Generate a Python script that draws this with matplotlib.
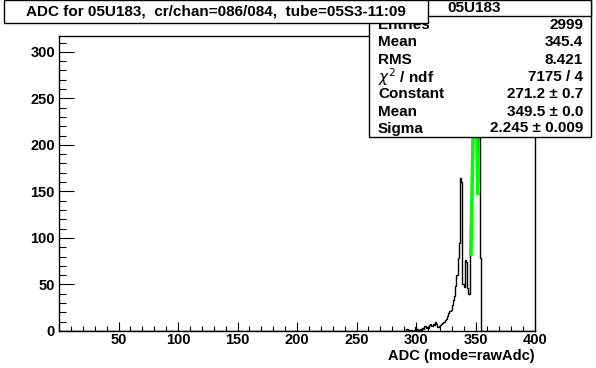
import numpy as np
import matplotlib
matplotlib.use("Agg")
import matplotlib.pyplot as plt
from matplotlib.patches import Rectangle

# ---------------- data ----------------
title = "ADC for 05U183,  cr/chan=086/084,  tube=05S3-11:09"
stats_title = "05U183"
stats_labels = ["Entries", "Mean", "RMS", r"$\chi^2$ / ndf", "Constant", "Mean", "Sigma"]
stats_values = ["2999", "345.4", "8.421", "7175 / 4", "271.2 \u00b1 0.7",
                "349.5 \u00b1 0.0", "2.245 \u00b1 0.009"]
x_label = "ADC (mode=rawAdc)"

n_bins = 400
x_min, x_max = 0, 400
first_bin = 290
counts = [0, 0, 2, 0, 1, 0, 1, 0, 1, 4,      # 290-299
          1, 2, 1, 2, 1, 3, 2, 5, 3, 4,      # 300-309
          3, 6, 8, 5, 7, 6, 10, 8, 4, 5,     # 310-319
          6, 8, 9, 10, 12, 13, 16, 19, 21, 23,  # 320-329
          28, 33, 38, 48, 60, 78, 95, 164, 160, 50,  # 330-339
          47, 76, 74, 46, 40, 82, 140, 220, 280, 302,  # 340-349
          290, 160, 255, 215, 78]            # 350-354

fit_constant, fit_mean, fit_sigma = 271.2, 349.5, 2.245
fit_range = (346.0, 352.0)

x_ticks = [0, 50, 100, 150, 200, 250, 300, 350, 400]
x_tick_labels = ["", "50", "100", "150", "200", "250", "300", "350", "400"]
y_ticks = [0, 50, 100, 150, 200, 250, 300]
y_max = 317

# ---------------- figure ----------------
W, H = 596, 368
fig = plt.figure(figsize=(W / 100, H / 100), dpi=100)
fig.patch.set_facecolor("white")
FONT = "Liberation Sans"
TICK_FS = 10.5
STAT_FS = 11

def fx(px):
    return px / W

def fy(py):
    return 1 - py / H

ax_l, ax_r, ax_t, ax_b = 59, 535, 36, 331
ax = fig.add_axes([fx(ax_l), fy(ax_b), (ax_r - ax_l) / W, (ax_b - ax_t) / H])

hist = np.zeros(n_bins)
for i, c in enumerate(counts):
    hist[first_bin + i] = c
edges = np.linspace(x_min, x_max, n_bins + 1)
ax.stairs(hist, edges, color="black", lw=1.0, baseline=0)

xf = np.linspace(fit_range[0], fit_range[1], 200)
yf = fit_constant * np.exp(-0.5 * ((xf - fit_mean) / fit_sigma) ** 2)
ax.plot(xf, yf, color="#00ff00", lw=2.6, solid_capstyle="butt")

ax.set_xlim(x_min, x_max)
ax.set_ylim(0, y_max)
ax.set_xticks(x_ticks)
ax.set_xticklabels(x_tick_labels)
ax.set_xticks(np.arange(0, 401, 10), minor=True)
ax.set_yticks(y_ticks)
ax.set_yticks(np.arange(0, 311, 10), minor=True)
for lab in ax.get_xticklabels() + ax.get_yticklabels():
    lab.set_fontfamily(FONT)
    lab.set_fontweight("bold")
    lab.set_fontsize(TICK_FS)
ax.tick_params(axis="x", which="major", direction="in", length=6.5, width=0.8, pad=1.2,
               bottom=True, top=False)
ax.tick_params(axis="x", which="minor", direction="in", length=3.3, width=0.8,
               bottom=True, top=False)
ax.tick_params(axis="y", which="major", direction="in", length=10.5, width=0.8, pad=3,
               left=True, right=False)
ax.tick_params(axis="y", which="minor", direction="in", length=5.2, width=0.8,
               left=True, right=False)
for s in ax.spines.values():
    s.set_linewidth(1.0)

fig.text(fx(535), fy(356), x_label, ha="right", va="center",
         fontfamily=FONT, fontweight="bold", fontsize=TICK_FS)

# ---------------- stats box ----------------
sb_l, sb_r, sb_t, sb_b = 369, 591, 0.5, 137
fig.add_artist(Rectangle((fx(sb_l), fy(sb_b)), (sb_r - sb_l) / W, (sb_b - sb_t) / H,
                         transform=fig.transFigure, facecolor="white", edgecolor="black",
                         lw=1.0, zorder=5))
row_y = [25, 42.5, 60, 77, 94, 111.5, 128.5]
for lab, val, yy in zip(stats_labels, stats_values, row_y):
    fig.text(fx(378), fy(yy), lab, ha="left", va="center", fontfamily=FONT,
             fontweight="bold", fontsize=STAT_FS, zorder=6)
    fig.text(fx(583), fy(yy), val, ha="right", va="center", fontfamily=FONT,
             fontweight="bold", fontsize=STAT_FS, zorder=6)
# header row (covers top of first row)
hd_b = 16
fig.add_artist(Rectangle((fx(sb_l), fy(hd_b)), (sb_r - sb_l) / W, (hd_b - sb_t) / H,
                         transform=fig.transFigure, facecolor="white", edgecolor="black",
                         lw=1.0, zorder=7))
fig.text(fx(474), fy(8), stats_title, ha="center", va="center", fontfamily=FONT,
         fontweight="bold", fontsize=STAT_FS, zorder=8)

# ---------------- title box ----------------
tb_l, tb_r, tb_t, tb_b = 3.5, 428, 0.5, 22.5
fig.add_artist(Rectangle((fx(tb_l), fy(tb_b)), (tb_r - tb_l) / W, (tb_b - tb_t) / H,
                         transform=fig.transFigure, facecolor="white", edgecolor="black",
                         lw=1.0, zorder=9))
fig.text(fx((tb_l + tb_r) / 2), fy(11.5), title, ha="center", va="center",
         fontfamily=FONT, fontweight="bold", fontsize=11, zorder=10)

fig.savefig("out.png", dpi=100)
